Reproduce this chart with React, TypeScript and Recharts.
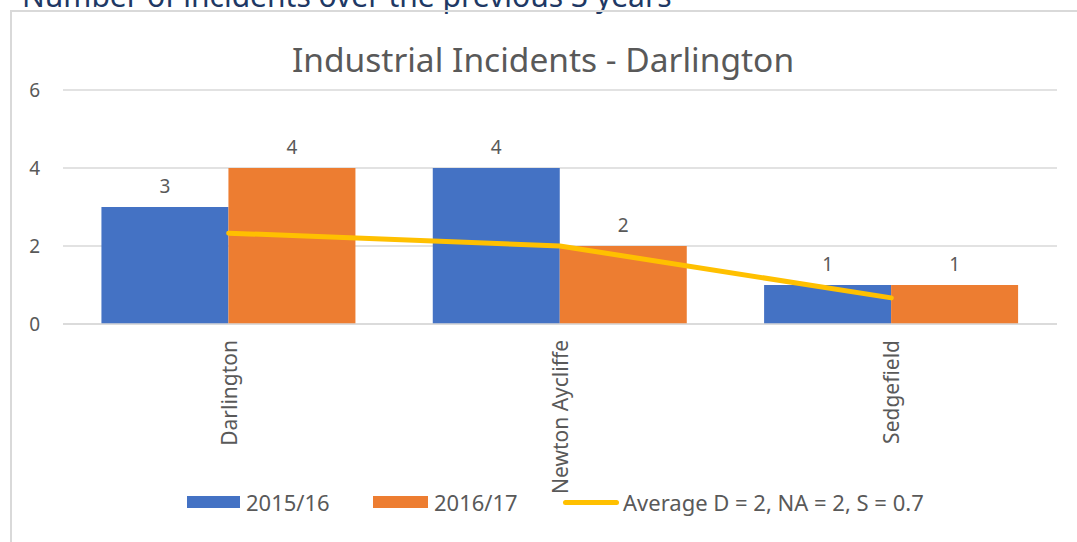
import React from 'react';
import {
  ComposedChart,
  Bar,
  Line,
  XAxis,
  YAxis,
  CartesianGrid,
  LabelList,
} from 'recharts';

const categories = ['Darlington', 'Newton Aycliffe', 'Sedgefield'];
const year1516 = [3, 4, 1];
const year1617 = [4, 2, 1];
const average = [2.33, 2, 0.67];
const yTicks = [0, 2, 4, 6];

const data = categories.map((name, i) => ({
  name,
  y1516: year1516[i],
  y1617: year1617[i],
  avg: average[i],
}));

const FONT = '"Noto Sans", sans-serif';
const TEXT = '#595959';
const BLUE = '#4472C4';
const ORANGE = '#ED7D31';
const GOLD = '#FFC000';

const CategoryTick = ({ x, y, payload }: any) => (
  <text
    x={x}
    y={y + 8}
    transform={`rotate(-90, ${x}, ${y + 8})`}
    textAnchor="end"
    dominantBaseline="central"
    fill={TEXT}
    fontSize={21}
    fontFamily={FONT}
  >
    {payload.value}
  </text>
);

// legend is drawn as plain html so it does not eat into the plot height
const legendItems = [
  { label: '2015/16', color: BLUE, left: 187, width: 53, line: false },
  { label: '2016/17', color: ORANGE, left: 373, width: 55, line: false },
  { label: 'Average D = 2, NA = 2, S = 0.7', color: GOLD, left: 563, width: 56, line: true },
];

const ChartLegend = () => (
  <div style={{ position: 'absolute', left: 0, top: 487, width: 1077, height: 30, fontFamily: FONT, fontSize: 22, color: TEXT }}>
    {legendItems.map((item) => (
      <div key={item.label} style={{ position: 'absolute', left: item.left, top: 0, display: 'flex', alignItems: 'center', whiteSpace: 'nowrap' }}>
        <div
          style={{
            width: item.width,
            height: item.line ? 5 : 12,
            borderRadius: item.line ? 3 : 0,
            background: item.color,
          }}
        />
        <span style={{ marginLeft: item.line ? 4 : 6 }}>{item.label}</span>
      </div>
    ))}
  </div>
);

export default function App() {
  return (
    <div style={{ position: 'absolute', left: 0, top: 0, width: 1077, height: 542, overflow: 'hidden', background: '#fff' }}>
      <div
        style={{
          position: 'absolute',
          left: 22,
          top: -25,
          fontFamily: FONT,
          fontSize: 30,
          color: '#203864',
          whiteSpace: 'nowrap',
        }}
      >
        Number of incidents over the previous 3 years
      </div>
      <div
        style={{
          position: 'absolute',
          left: 10,
          top: 10,
          width: 1100,
          height: 600,
          borderLeft: '2px solid #D9D9D9',
          borderTop: '2px solid #D9D9D9',
        }}
      />
      <div
        style={{
          position: 'absolute',
          left: 0,
          top: 36,
          width: 1086,
          textAlign: 'center',
          fontFamily: FONT,
          fontSize: 33.5,
          color: TEXT,
        }}
      >
        Industrial Incidents - Darlington
      </div>
      <div style={{ position: 'absolute', left: 0, top: 0 }}>
        <ComposedChart
          width={1077}
          height={542}
          data={data}
          margin={{ top: 90, right: 20, left: 0, bottom: 0 }}
          barCategoryGap="11.6%"
          barGap={0}
        >
          <CartesianGrid vertical={false} stroke="#D9D9D9" strokeWidth={1.5} />
          <XAxis
            dataKey="name"
            axisLine={{ stroke: '#D9D9D9', strokeWidth: 1.5 }}
            tickLine={false}
            interval={0}
            height={218}
            tick={<CategoryTick />}
          />
          <YAxis
            domain={[0, 6]}
            ticks={yTicks}
            width={63}
            axisLine={false}
            tickLine={false}
            tickMargin={17}
            tick={{ fill: TEXT, fontSize: 19, fontFamily: FONT }}
          />
          <Bar dataKey="y1516" fill={BLUE} isAnimationActive={false}>
            <LabelList dataKey="y1516" position="top" offset={14} fill={TEXT} fontSize={19} fontFamily={FONT} />
          </Bar>
          <Bar dataKey="y1617" fill={ORANGE} isAnimationActive={false}>
            <LabelList dataKey="y1617" position="top" offset={14} fill={TEXT} fontSize={19} fontFamily={FONT} />
          </Bar>
          <Line
            dataKey="avg"
            type="linear"
            stroke={GOLD}
            strokeWidth={5}
            strokeLinecap="round"
            dot={false}
            activeDot={false}
            isAnimationActive={false}
          />
        </ComposedChart>
      </div>
      <ChartLegend />
    </div>
  );
}
